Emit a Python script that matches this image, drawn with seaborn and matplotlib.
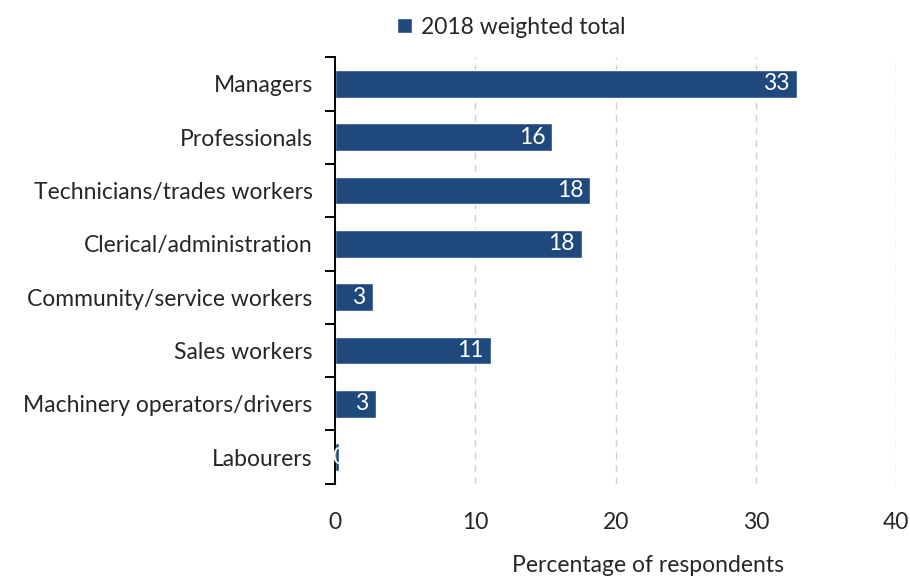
import numpy as np
import pandas as pd
import matplotlib.pyplot as plt
import seaborn as sns

# Data
occupations = ['Managers', 'Professionals', 'Technicians/trades workers',
               'Clerical/administration', 'Community/service workers',
               'Sales workers', 'Machinery operators/drivers', 'Labourers']
pct = [32.9, 15.5, 18.2, 17.6, 2.7, 11.1, 2.9, 0.3]
shown = ['33', '16', '18', '18', '3', '11', '3', '0']
series_name = '2018 weighted total'
bar_color = '#1F497D'

df = pd.DataFrame({'occupation': occupations, 'pct': pct})

sns.set_style('white')
plt.rcParams['font.family'] = ['Lato', 'DejaVu Sans']

fig = plt.figure(figsize=(9.1, 5.78), dpi=100)
ax = fig.add_axes([0.368, 0.163, 0.617, 0.738])

sns.barplot(data=df, y='occupation', x='pct', color=bar_color, width=0.52,
            orient='h', ax=ax, saturation=1, label=series_name)

# value labels inside bar ends
for i, (v, s) in enumerate(zip(pct, shown)):
    ax.text(max(v - 0.5, 0.75), i, s, color='white', ha='right', va='center', fontsize=16.5)

ax.set_xlim(0, 40)
ax.set_ylim(7.5, -0.5)
ax.set_xticks([0, 10, 20, 30, 40])
ax.tick_params(axis='x', length=0, labelsize=16.5, pad=20)
ax.tick_params(axis='y', which='major', left=False, length=0, labelsize=16.5, pad=16)
ax.set_yticks(np.arange(-0.5, 8, 1), minor=True)
ax.tick_params(axis='y', which='minor', left=True, length=7, width=1.4,
               color='black', direction='out')
ax.xaxis.grid(True, linestyle=(0, (5, 4)), color='#D0D0D0', linewidth=1)
ax.set_axisbelow(True)
for side in ['top', 'right', 'bottom']:
    ax.spines[side].set_visible(False)
ax.spines['left'].set_color('black')
ax.spines['left'].set_linewidth(1.4)
ax.set_xlabel('')
ax.set_ylabel('')

fig.text(0.712, 0.004, 'Percentage of respondents', ha='center', va='bottom', fontsize=16.5)

handles, labels = ax.get_legend_handles_labels()
if ax.get_legend():
    ax.get_legend().remove()
fig.legend(handles, labels, loc='center', bbox_to_anchor=(0.562, 0.953), frameon=False,
           fontsize=16.5, handlelength=0.65, handleheight=0.65, handletextpad=0.4)

fig.savefig('out.png', dpi=100)
